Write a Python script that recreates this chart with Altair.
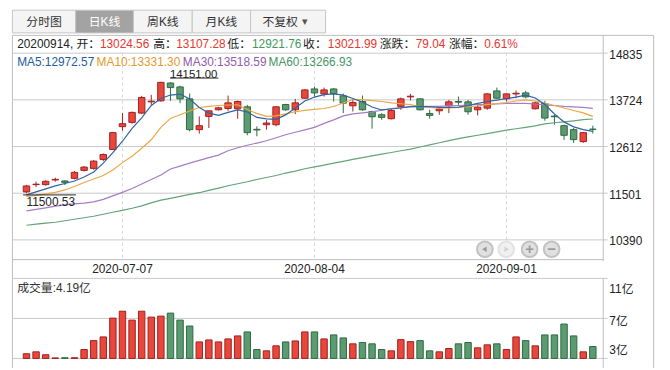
import altair as alt
import pandas as pd

# ---------------- data ----------------
dates = ["2020-06-19", "2020-06-22", "2020-06-23", "2020-06-24", "2020-06-29", "2020-06-30",
         "2020-07-01", "2020-07-02", "2020-07-03", "2020-07-06", "2020-07-07", "2020-07-08",
         "2020-07-09", "2020-07-10", "2020-07-13", "2020-07-14", "2020-07-15", "2020-07-16",
         "2020-07-17", "2020-07-20", "2020-07-21", "2020-07-22", "2020-07-23", "2020-07-24",
         "2020-07-27", "2020-07-28", "2020-07-29", "2020-07-30", "2020-07-31", "2020-08-03",
         "2020-08-04", "2020-08-05", "2020-08-06", "2020-08-07", "2020-08-10", "2020-08-11",
         "2020-08-12", "2020-08-13", "2020-08-14", "2020-08-17", "2020-08-18", "2020-08-19",
         "2020-08-20", "2020-08-21", "2020-08-24", "2020-08-25", "2020-08-26", "2020-08-27",
         "2020-08-28", "2020-08-31", "2020-09-01", "2020-09-02", "2020-09-03", "2020-09-04",
         "2020-09-07", "2020-09-08", "2020-09-09", "2020-09-10", "2020-09-11", "2020-09-14"]

opens = [11532, 11705, 11705, 11816, 11792, 11855, 12044, 12092, 12305, 12541,
         13085, 13187, 13408, 13676, 13700, 14125, 14031, 13747, 13014, 13329,
         13487, 13518, 13510, 13558, 13022, 13132, 13132, 13613, 13487, 13763,
         13983, 13865, 13983, 13818, 13582, 13684, 13447, 13369, 13274, 13566,
         13794, 13747, 13400, 13463, 13582, 13684, 13676, 13487, 13526, 13936,
         13747, 13865, 13889, 13511, 13637, 13337, 13108, 13014, 12730, 13024.56]
highs = [11697, 11776, 11808, 11871, 11808, 12029, 12147, 12289, 12446, 12959,
         13408, 13447, 13818, 13842, 14151.00, 14140, 14062, 13873, 13329, 13471,
         13558, 13826, 13708, 13605, 13093, 13242, 13566, 13629, 13747, 13983,
         14039, 14015, 13999, 13873, 13739, 13826, 13463, 13408, 13503, 13779,
         13865, 13763, 13487, 13550, 13723, 13802, 13723, 13605, 13881, 14015,
         13881, 13944, 13936, 13684, 13700, 13369, 13132, 13053, 12959, 13107.28]
lows = [11500.53, 11650, 11682, 11776, 11697, 11831, 12021, 12060, 12265, 12533,
        12990, 13156, 13384, 13605, 13680, 13700, 13645, 12975, 12919, 13053,
        13471, 13463, 13274, 12880, 12856, 13014, 13093, 13463, 13384, 13747,
        13802, 13802, 13684, 13408, 13447, 13463, 13038, 13250, 13258, 13487,
        13708, 13471, 13274, 13369, 13408, 13605, 13369, 13353, 13487, 13747,
        13684, 13763, 13763, 13495, 13227, 13132, 12770, 12699, 12699, 12921.76]
closes = [11674, 11716, 11784, 11831, 11760, 11997, 12123, 12265, 12423, 12943,
          13156, 13424, 13779, 13692, 14140, 14015, 13747, 13014, 13108, 13463,
          13534, 13652, 13684, 12943, 13006, 13172, 13558, 13487, 13652, 13960,
          13889, 13960, 13873, 13645, 13660, 13487, 13321, 13306, 13471, 13747,
          13810, 13487, 13353, 13503, 13676, 13668, 13440, 13550, 13865, 13763,
          13865, 13881, 13794, 13652, 13290, 13321, 12880, 12777, 12942.95, 13021.99]
volumes = [3.47, 3.66, 3.37, 3.05, 3.07, 3.07, 3.89, 4.78, 5.15, 7.03,
           7.72, 6.83, 7.72, 7.13, 7.23, 7.53, 6.83, 6.24, 4.65, 4.85,
           4.65, 4.95, 5.25, 5.65, 3.89, 3.76, 4.26, 4.65, 4.75, 5.65,
           5.65, 4.95, 5.35, 5.05, 4.46, 4.59, 4.46, 3.89, 3.76, 4.88,
           4.68, 4.78, 3.76, 3.66, 3.99, 4.46, 4.59, 4.06, 4.36, 4.46,
           3.89, 5.15, 4.78, 4.26, 5.35, 5.35, 6.44, 5.25, 3.66, 4.19]
ma5 = [11461, 11532, 11603, 11674, 11733, 11792, 11886, 12005, 12217, 12466,
       12738, 13045, 13293, 13589, 13755, 13838, 13861, 13743, 13542, 13407,
       13353, 13424, 13483, 13435, 13305, 13270, 13258, 13365, 13530, 13696,
       13790, 13849, 13866, 13837, 13755, 13672, 13554, 13483, 13506, 13530,
       13561, 13566, 13559, 13542, 13542, 13549, 13589, 13641, 13684, 13719,
       13755, 13790, 13837, 13767, 13613, 13388, 13199, 13081, 13015, 12972.57]
ma10 = [11425, 11449, 11484, 11520, 11579, 11662, 11756, 11839, 11922, 12052,
        12229, 12383, 12572, 12773, 13069, 13282, 13369, 13459, 13542, 13570,
        13589, 13601, 13606, 13495, 13400, 13329, 13341, 13388, 13440, 13471,
        13495, 13518, 13566, 13648, 13731, 13731, 13707, 13684, 13653, 13630,
        13608, 13566, 13542, 13525, 13530, 13542, 13559, 13577, 13613, 13637,
        13660, 13696, 13724, 13696, 13648, 13589, 13530, 13471, 13412, 13331.30]
ma30 = [11082, 11118, 11153, 11193, 11224, 11248, 11264, 11295, 11354, 11437,
        11520, 11614, 11721, 11827, 11934, 12076, 12147, 12218, 12281, 12348,
        12407, 12513, 12584, 12643, 12695, 12750, 12821, 12892, 12951, 13010,
        13069, 13164, 13246, 13341, 13388, 13412, 13436, 13476, 13518, 13542,
        13561, 13566, 13566, 13570, 13578, 13589, 13601, 13613, 13617, 13625,
        13637, 13641, 13641, 13625, 13601, 13589, 13570, 13558, 13546, 13518.59]
ma60 = [10739, 10763, 10787, 10810, 10846, 10881, 10917, 10952, 11000, 11047,
        11094, 11142, 11200, 11271, 11335, 11378, 11425, 11473, 11513, 11567,
        11622, 11678, 11726, 11773, 11827, 11875, 11922, 11981, 12028, 12083,
        12128, 12170, 12218, 12260, 12305, 12347, 12388, 12430, 12471, 12511,
        12549, 12601, 12653, 12702, 12752, 12802, 12842, 12880, 12920, 12963,
        13003, 13036, 13069, 13105, 13152, 13178, 13201, 13225, 13251, 13266.93]

price_ticks = [14835, 13724, 12612, 11501, 10390]
vol_ticks = [11, 7, 3]
date_ticks = ["2020-07-07", "2020-08-04", "2020-09-01"]
tabs = ["分时图", "日K线", "周K线", "月K线", "不复权"]
ma_names = ["MA5", "MA10", "MA30", "MA60"]

# ---------------- styles ----------------
FONT = "Liberation Sans, Noto Sans CJK SC, sans-serif"
RED_F, RED_S = "#e8473c", "#a3201f"
GRN_F, GRN_S = "#5c9b71", "#2c6a3f"
TXT_RED, TXT_GRN, TXT = "#e8372f", "#3e9a5c", "#222222"
GRID, FRAME = "#c9c9c9", "#bdbdbd"
MA_TXT = ["#235c9c", "#e49a2e", "#9459b0", "#4a9666"]
MA_LINE = ["#2e64a3", "#eaa846", "#a67cc4", "#63a47a"]

xs = alt.Scale(domain=[0, 59], range=[13.7, 597], nice=False, zero=False)
ys = alt.Scale(domain=[10390, 14835], range=[232.5, 43.5], nice=False, zero=False)
vs = alt.Scale(domain=[3, 11], range=[352.5, 271.5], nice=False, zero=False)
fill_sc = alt.Scale(domain=["up", "down"], range=[RED_F, GRN_F])
strk_sc = alt.Scale(domain=["up", "down"], range=[RED_S, GRN_S])

df = pd.DataFrame({"d": dates, "o": opens, "h": highs, "l": lows, "c": closes, "v": volumes})
df["i"] = range(len(df))
df["dir"] = ["up" if c >= o else "down" for o, c in zip(opens, closes)]
df["vb"] = vol_ticks[-1]

one = pd.DataFrame({"z": [0]})
X = alt.X("i:Q", scale=xs, axis=None)


def hrule(x1, x2, y, color=FRAME, **kw):
    return alt.Chart(one).mark_rule(color=color, strokeWidth=1, **kw).encode(
        x=alt.value(x1), x2=alt.value(x2), y=alt.value(y))


def vrule(x, y1, y2, color=FRAME, **kw):
    return alt.Chart(one).mark_rule(color=color, strokeWidth=1, **kw).encode(
        x=alt.value(x), y=alt.value(y1), y2=alt.value(y2))


def vtext(txt, x, y, color=TXT, size=12, align="left", **kw):
    return alt.Chart(one).mark_text(color=color, fontSize=size, align=align,
                                    baseline="middle", font=FONT, **kw).encode(
        x=alt.value(x), y=alt.value(y), text=alt.value(txt))


def rect(x1, x2, y1, y2, fill, stroke):
    return alt.Chart(one).mark_rect(fill=fill, stroke=stroke, strokeWidth=1).encode(
        x=alt.value(x1), x2=alt.value(x2), y=alt.value(y1), y2=alt.value(y2))


layers = []

# ---- price gridlines & labels ----
pt = pd.DataFrame({"t": price_ticks})
layers.append(alt.Chart(pt).mark_rule(color=GRID, strokeWidth=1).encode(
    y=alt.Y("t:Q", scale=ys, axis=None), x=alt.value(4.5), x2=alt.value(607)))
layers.append(alt.Chart(pt).mark_text(align="left", baseline="middle", dy=1.5, fontSize=12,
                                      font=FONT, color=TXT).encode(
    y=alt.Y("t:Q", scale=ys, axis=None), x=alt.value(608.7), text=alt.Text("t:Q", format="d")))

# ---- date dashed lines & labels ----
dt = pd.DataFrame({"d": date_ticks, "i": [dates.index(d) for d in date_ticks]})
layers.append(alt.Chart(dt).mark_rule(color="#d6d6d6", strokeDash=[3, 3], strokeWidth=1).encode(
    x=X, y=alt.value(43.5), y2=alt.value(252.5)))
layers.append(alt.Chart(dt).mark_text(fontSize=12, font=FONT, color=TXT, baseline="middle").encode(
    x=X, y=alt.value(262), text="d:N"))

# ---- volume gridlines ----
vt = pd.DataFrame({"t": vol_ticks})
layers.append(alt.Chart(vt).mark_rule(color=GRID, strokeWidth=1).encode(
    y=alt.Y("t:Q", scale=vs, axis=None), x=alt.value(4.5), x2=alt.value(607)))
for t, dy in zip(vol_ticks, [10.5, 2.2, -8.8]):
    layers.append(alt.Chart(pd.DataFrame({"t": [t], "lab": [f"{t}亿"]})).mark_text(
        align="left", baseline="middle", dy=dy, fontSize=12, font=FONT, color=TXT).encode(
        y=alt.Y("t:Q", scale=vs, axis=None), x=alt.value(608.7), text="lab:N"))

# ---- frame ----
layers += [
    hrule(4.5, 653.5, 25.5),
    vrule(4.5, 25.5, 362),
    vrule(653.5, 25.5, 362),
    vrule(602.5, 25.5, 254),
    vrule(602.5, 271.5, 362),
    hrule(4.5, 602.5, 252.5),
]

# ---- tabs ----
edges = [4.5, 68.5, 127, 186.5, 245.5, 321.5]
for k, lab in enumerate(tabs):
    active = (k == 1)
    layers.append(rect(edges[k], edges[k + 1], 0, 23,
                       "#a3a3a3" if active else "#f4f4f4", "#c6c6c6"))
    cx = (edges[k] + edges[k + 1]) / 2
    if k == 4:
        layers.append(vtext(lab, cx - 8, 12, color="#333", align="center"))
        layers.append(vtext("▾", cx + 17, 12, color="#555", size=11, align="center"))
    else:
        layers.append(vtext(lab, cx, 12, color="#ffffff" if active else "#333",
                            align="center"))

# ---- info line ----
prev_close = closes[-2]
chg = closes[-1] - prev_close
pct = chg / prev_close * 100
info = [
    (dates[-1].replace("-", "") + ", 开：", 9.3, TXT),
    (f"{opens[-1]:.2f}", 93, TXT_RED),
    ("高：", 147, TXT),
    (f"{highs[-1]:.2f}", 170.3, TXT_RED),
    ("低：", 222, TXT),
    (f"{lows[-1]:.2f}", 247, TXT_GRN),
    ("收：", 298.7, TXT),
    (f"{closes[-1]:.2f}", 323.7, TXT_RED),
    ("涨跌：", 376.3, TXT),
    (f"{chg:.2f}", 412.7, TXT_RED),
    ("涨幅：", 446.3, TXT),
    (f"{pct:.2f}%", 482, TXT_RED),
]
for txt, x, col in info:
    layers.append(vtext(txt, x, 34.7, color=col))

# ---- candles ----
layers.append(alt.Chart(df).mark_rule(strokeWidth=1).encode(
    x=X, y=alt.Y("l:Q", scale=ys, axis=None), y2="h:Q",
    stroke=alt.Stroke("dir:N", scale=strk_sc, legend=None)))
layers.append(alt.Chart(df).mark_bar(width=6.5, strokeWidth=1).encode(
    x=X, y=alt.Y("o:Q", scale=ys, axis=None), y2="c:Q",
    fill=alt.Fill("dir:N", scale=fill_sc, legend=None),
    stroke=alt.Stroke("dir:N", scale=strk_sc, legend=None)))

# ---- moving averages ----
for name, vals, col in reversed(list(zip(ma_names, [ma5, ma10, ma30, ma60], MA_LINE))):
    mdf = pd.DataFrame({"i": range(len(vals)), "m": vals})
    layers.append(alt.Chart(mdf).mark_line(color=col, strokeWidth=1.2).encode(
        x=X, y=alt.Y("m:Q", scale=ys, axis=None)))

ma_x = [9.3, 89.7, 177, 263.7]
for name, vals, col, x in zip(ma_names, [ma5, ma10, ma30, ma60], MA_TXT, ma_x):
    layers.append(vtext(f"{name}:{vals[-1]:.2f}", x, 52.2, color=col))

# ---- max / min annotations ----
imax = highs.index(max(highs))
imin = lows.index(min(lows))
hi = pd.DataFrame({"i": [imax], "p": [highs[imax]], "lab": [f"{highs[imax]:.2f}"]})
lo = pd.DataFrame({"i": [imin], "p": [lows[imin]], "lab": [f"{lows[imin]:.2f}"]})
layers.append(alt.Chart(hi).mark_text(align="left", baseline="middle", dx=9.2, dy=-7.4,
                                      fontSize=11.5, font=FONT, color=TXT).encode(
    x=X, y=alt.Y("p:Q", scale=ys, axis=None), text="lab:N"))
layers.append(alt.Chart(hi).mark_rule(color=TXT, strokeWidth=1, xOffset=9.2, x2Offset=58.2,
                                      yOffset=-3.9).encode(
    x=X, x2="i:Q", y=alt.Y("p:Q", scale=ys, axis=None)))
layers.append(alt.Chart(lo).mark_text(align="left", baseline="middle", dx=0, dy=9.4,
                                      fontSize=12, font=FONT, color=TXT).encode(
    x=X, y=alt.Y("p:Q", scale=ys, axis=None), text="lab:N"))
layers.append(alt.Chart(lo).mark_rule(color=TXT, strokeWidth=1, xOffset=-3.4, x2Offset=50,
                                      yOffset=1.7).encode(
    x=X, x2="i:Q", y=alt.Y("p:Q", scale=ys, axis=None)))

# ---- navigation buttons ----
nav_x = [482.7, 504.3, 528, 550.3]
for k, x in enumerate(nav_x):
    disabled = (k == 1)
    layers.append(alt.Chart(one).mark_point(
        shape="circle", size=250, fill="#f0f0f0" if disabled else "#e0e0e0", fillOpacity=1,
        stroke="#e2e2e2" if disabled else "#c2c2c2", strokeWidth=2, opacity=1).encode(
        x=alt.value(x), y=alt.value(242)))
glyph_col = ["#9a9a9a", "#d2d2d2", "#9a9a9a", "#9a9a9a"]
layers.append(alt.Chart(one).mark_point(shape="triangle-left", size=30, filled=True,
                                        color=glyph_col[0], opacity=1).encode(
    x=alt.value(nav_x[0] - 0.5), y=alt.value(242)))
layers.append(alt.Chart(one).mark_point(shape="triangle-right", size=30, filled=True,
                                        color=glyph_col[1], opacity=1).encode(
    x=alt.value(nav_x[1] + 0.5), y=alt.value(242)))
layers.append(vtext("+", nav_x[2], 242, color=glyph_col[2], size=15, align="center",
                    fontWeight="bold"))
layers.append(vtext("−", nav_x[3], 242, color=glyph_col[3], size=15, align="center",
                    fontWeight="bold"))

# ---- volume ----
layers.append(vtext(f"成交量:{volumes[-1]:.2f}亿", 9.3, 281, color="#333"))
layers.append(alt.Chart(df).mark_bar(width=6.5, strokeWidth=1).encode(
    x=X, y=alt.Y("v:Q", scale=vs, axis=None), y2="vb:Q",
    fill=alt.Fill("dir:N", scale=fill_sc, legend=None),
    stroke=alt.Stroke("dir:N", scale=strk_sc, legend=None)))

chart = alt.layer(*layers).resolve_scale(y="independent").properties(
    width=662, height=362, autosize="none", padding=0
).configure_view(stroke=None)

chart.save("out.html", embed_options={"renderer": "svg", "actions": False})
